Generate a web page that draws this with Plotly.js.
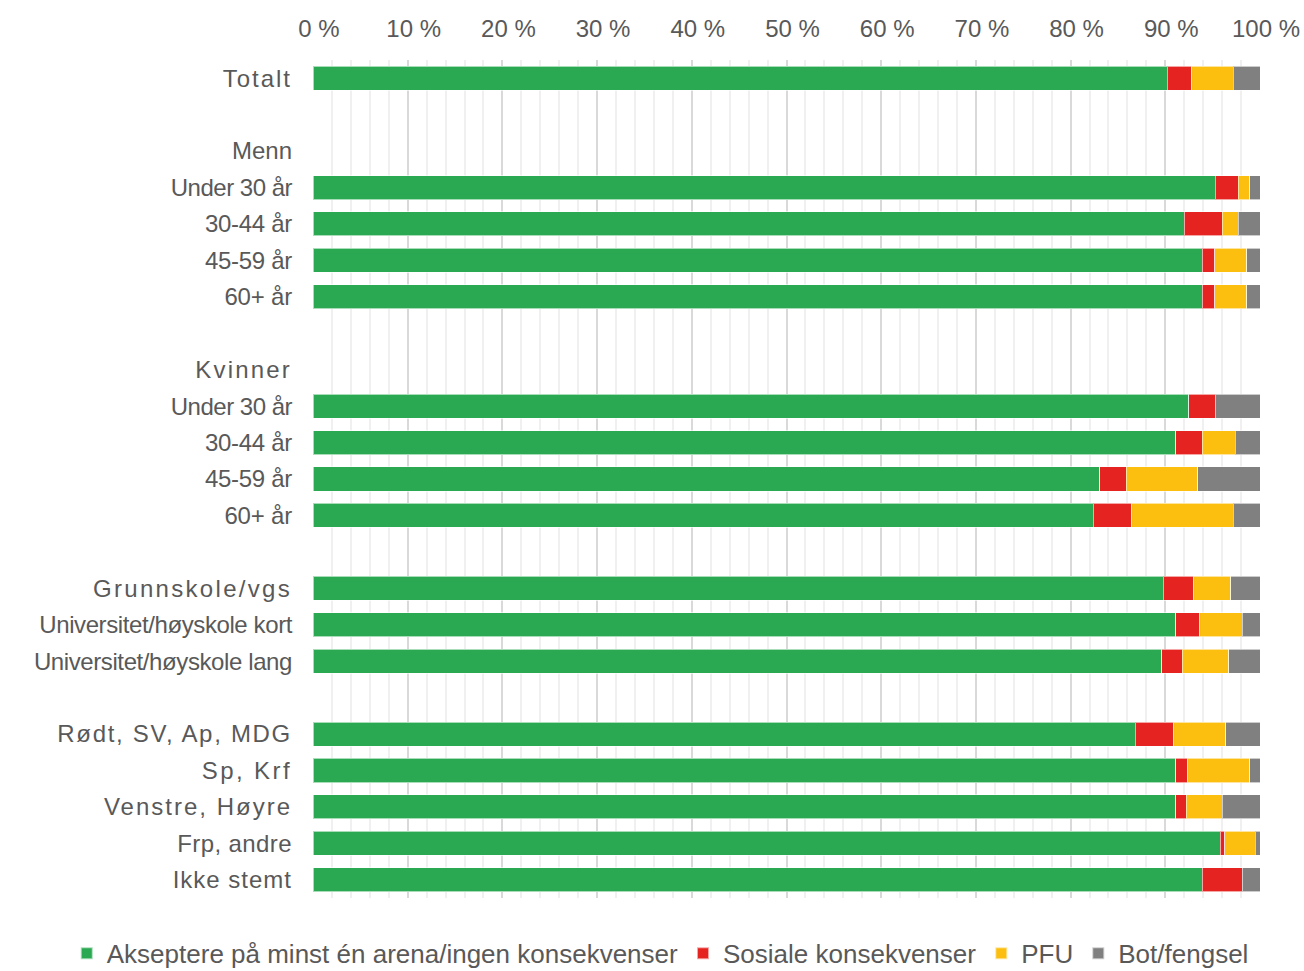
<!DOCTYPE html>
<html>
<head>
<meta charset="utf-8">
<script src="https://cdn.plot.ly/plotly-3.0.1.min.js"></script>
<style>html,body{margin:0;padding:0;background:#fff;}#chart{width:1304px;height:971px;}</style>
</head>
<body>
<div id="chart"></div>
<script>
// Row labels (blank strings are spacer rows, "Menn"/"Kvinner" are group headers)
const labels = [
  "Totalt", "",
  "Menn", "Under 30 år", "30-44 år", "45-59 år", "60+ år", "",
  "Kvinner", "Under 30 år", "30-44 år", "45-59 år", "60+ år", "",
  "Grunnskole/vgs", "Universitet/høyskole kort", "Universitet/høyskole lang", "",
  "Rødt, SV, Ap, MDG", "Sp, Krf", "Venstre, Høyre", "Frp, andre", "Ikke stemt"
];

const seriesNames = [
  "Akseptere på minst én arena/ingen konsekvenser",
  "Sosiale konsekvenser",
  "PFU",
  "Bot/fengsel"
];

const akseptere = [90.2, null, null, 95.3, 92.0, 93.9, 93.9, null, null, 92.5, 91.1, 83.1, 82.4, null, 89.8, 91.1, 89.6, null, 86.8, 91.1, 91.1, 95.8, 93.9];
const sosiale   = [2.6,  null, null, 2.4,  4.0,  1.3,  1.3,  null, null, 2.8,  2.8,  2.8,  4.0,  null, 3.2,  2.5,  2.2,  null, 4.1,  1.2,  1.1,  0.5,  4.2];
const pfu       = [4.4,  null, null, 1.2,  1.7,  3.4,  3.4,  null, null, 0,    3.5,  7.5,  10.8, null, 3.9,  4.5,  4.9,  null, 5.5,  6.6,  3.8,  3.2,  0];
const bot       = [2.8,  null, null, 1.1,  2.3,  1.4,  1.4,  null, null, 4.7,  2.6,  6.6,  2.8,  null, 3.1,  1.9,  3.3,  null, 3.6,  1.1,  4.0,  0.5,  1.9];

const colors = ["#2aa952", "#e52421", "#fcbf10", "#808080"];
const values = [akseptere, sosiale, pfu, bot];

const rowIdx = labels.map((_, i) => i);

// typographic letter-spacing (px) of some labels, to imitate the original typesetting
const spacing = {
  "Totalt": 2, "Kvinner": 2.2, "Grunnskole/vgs": 2.3, "Rødt, SV, Ap, MDG": 1.7,
  "Sp, Krf": 2.4, "Venstre, Høyre": 2, "Ikke stemt": 1, "Frp, andre": 0.4,
  "Under 30 år": -0.5, "Universitet/høyskole kort": -0.4, "Universitet/høyskole lang": -0.4,
  "30-44 år": -0.3, "45-59 år": -0.3, "60+ år": -0.2
};
const ticktext = labels.map(l => spacing[l] ? '<span style="letter-spacing:' + spacing[l] + 'px">' + l + '</span>' : l);

const traces = values.map((v, k) => ({
  type: "bar",
  orientation: "h",
  name: seriesNames[k],
  x: v,
  y: rowIdx,
  marker: { color: colors[k], line: { color: "rgba(255,255,255,0.6)", width: 1 } },
  hoverinfo: "x+name"
}));

const font = "Liberation Sans, Arial, sans-serif";

const layout = {
  width: 1304,
  height: 971,
  paper_bgcolor: "#ffffff",
  plot_bgcolor: "#ffffff",
  barmode: "stack",
  bargap: 0.34,
  margin: { l: 313, r: 44, t: 60, b: 73, autoexpand: false },
  font: { family: font, color: "#595959", size: 22 },
  xaxis: {
    side: "top",
    range: [0, 100],
    dtick: 10,
    ticksuffix: " %",
    showgrid: true,
    gridcolor: "#d9d9d9",
    gridwidth: 2,
    zeroline: false,
    ticks: "",
    ticklabelstandoff: 17,
    ticklabelshift: 6,
    tickfont: { family: font, size: 24, color: "#595959" },
    minor: { dtick: 2, showgrid: true, gridcolor: "#f0f0f0", gridwidth: 2 },
    fixedrange: true
  },
  yaxis: {
    autorange: "reversed",
    tickmode: "array",
    tickvals: rowIdx,
    ticktext: ticktext,
    showgrid: false,
    zeroline: false,
    ticks: "",
    ticklabelstandoff: 20,
    tickfont: { family: font, size: 24, color: "#595959" },
    fixedrange: true
  },
  legend: {
    orientation: "h",
    x: -0.26,
    xanchor: "left",
    y: -0.066,
    yanchor: "middle",
    traceorder: "normal",
    bgcolor: "rgba(0,0,0,0)",
    font: { family: font, size: 26, color: "#595959" },
    itemwidth: 30,
    itemsizing: "constant"
  },
  showlegend: true
};

Plotly.newPlot("chart", traces, layout, { displayModeBar: false, staticPlot: true });
</script>
</body>
</html>
